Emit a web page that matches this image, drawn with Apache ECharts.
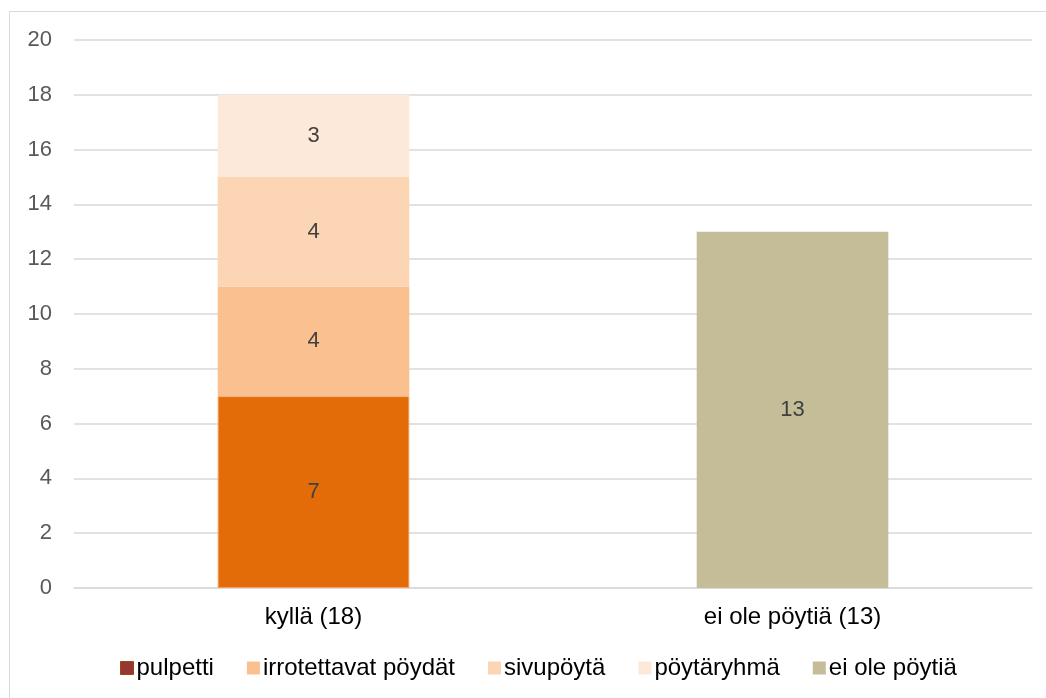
<!DOCTYPE html>
<html>
<head>
<meta charset="utf-8">
<script src="https://cdn.jsdelivr.net/npm/echarts@6/dist/echarts.min.js"></script>
<style>
  html, body { margin: 0; padding: 0; background: #fff; }
  #chart { width: 1046px; height: 698px; }
</style>
</head>
<body>
<div id="chart"></div>
<script>
// Categories and stacked series values
const categories = ['kyllä (18)', 'ei ole pöytiä (13)'];
const pulpetti = [7, null];
const irrotettavat = [4, null];
const sivupoyta = [4, null];
const poytaryhma = [3, null];
const eiOlePoytia = [null, 13];
const yTicks = { min: 0, max: 20, interval: 2 };

const font = 'Liberation Sans, Arial, sans-serif';
const labelStyle = {
  show: true,
  position: 'inside',
  color: '#404040',
  fontSize: 22,
  fontFamily: font,
  formatter: p => (p.value == null ? '' : p.value)
};

function bar(name, data, color, extra) {
  return Object.assign({
    name: name,
    type: 'bar',
    stack: 'total',
    barWidth: '40%',
    data: data,
    itemStyle: { color: color },
    label: labelStyle
  }, extra || {});
}

const chart = echarts.init(document.getElementById('chart'));
chart.setOption({
  animation: false,
  backgroundColor: '#fff',
  graphic: [{
    type: 'rect',
    shape: { x: 9.5, y: 11.5, width: 1100, height: 800 },
    style: { fill: 'none', stroke: '#D9D9D9', lineWidth: 1 },
    silent: true
  }],
  grid: { left: 74, right: 14, top: 40, bottom: 110, containLabel: false },
  legend: {
    top: 651,
    left: 115,
    icon: 'rect',
    itemWidth: 13,
    itemHeight: 13,
    itemGap: 33,
    textStyle: { color: '#000', fontSize: 24, fontFamily: font, padding: [0, 0, 0, -2] },
    data: [
      { name: 'pulpetti', itemStyle: { color: '#953735', borderColor: '#A0460F', borderWidth: 1 } },
      { name: 'irrotettavat pöydät' },
      { name: 'sivupöytä' },
      { name: 'pöytäryhmä' },
      { name: 'ei ole pöytiä' }
    ]
  },
  xAxis: {
    type: 'category',
    data: categories,
    axisTick: { show: false },
    axisLine: { show: true, lineStyle: { color: '#D9D9D9', width: 1.5 } },
    axisLabel: { color: '#000', fontSize: 24, fontFamily: font, margin: 17 }
  },
  yAxis: {
    type: 'value',
    min: yTicks.min,
    max: yTicks.max,
    interval: yTicks.interval,
    axisLine: { show: false },
    axisTick: { show: false },
    splitLine: { lineStyle: { color: '#D9D9D9', width: 1.5 } },
    axisLabel: { color: '#595959', fontSize: 22, fontFamily: font, margin: 22 }
  },
  series: [
    bar('pulpetti', pulpetti, '#E36C09', { itemStyle: { color: '#E36C09', borderColor: '#F0A060', borderWidth: 1 } }),
    bar('irrotettavat pöydät', irrotettavat, '#FAC090'),
    bar('sivupöytä', sivupoyta, '#FCD5B5'),
    bar('pöytäryhmä', poytaryhma, '#FDE9D9'),
    bar('ei ole pöytiä', eiOlePoytia, '#C4BD97')
  ]
});
</script>
</body>
</html>
